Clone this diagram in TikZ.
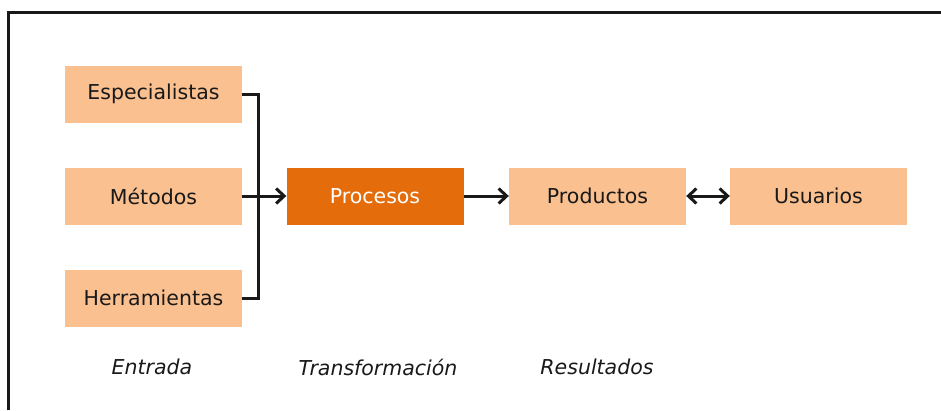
\documentclass[tikz,border=0pt]{standalone}
\usepackage{fontspec}
\setmainfont{DejaVu Sans}
\usetikzlibrary{arrows.meta}
\definecolor{lightor}{HTML}{FAC090}
\definecolor{darkor}{HTML}{E46C0A}
\begin{document}
\begin{tikzpicture}[x=1pt,y=-1pt,
  box/.style={fill=lightor,draw=none,minimum width=177pt,minimum height=57pt,inner sep=0pt,font=\fontsize{20.5}{24}\selectfont,text=black!90},
  mainbox/.style={box,fill=darkor,text=white},
  lbl/.style={font=\fontsize{20.5}{24}\selectfont\itshape,text=black!90},
  conn/.style={line width=3pt,black!90},
  arr/.style={conn,-{Straight Barb[length=8pt,width=15pt,line width=3pt]}},
  darr/.style={conn,{Straight Barb[length=8pt,width=15pt,line width=3pt]}-{Straight Barb[length=8pt,width=15pt,line width=3pt]}}]
\useasboundingbox (0,0) rectangle (941,410);
% frame (top and left edges)
\draw[line width=3pt,black!90] (8.5,410) -- (8.5,12) -- (941,12);
\node[box] (esp) at (153.5,94) {Especialistas};
\node[box] (met) at (153.5,196) {Métodos};
\node[box] (her) at (153.5,298) {Herramientas};
\node[mainbox] (pro) at (375,196) {Procesos};
\node[box] (prd) at (597.5,196) {Productos};
\node[box] (usu) at (818.5,196) {Usuarios};
\coordinate (jt) at (258.5,94);
\coordinate (jb) at (258.5,298);
\draw[conn] (esp.east) -- (jt) -- (jb) -- (her.east);
\draw[arr] (met.east) -- (pro.west);
\draw[arr] (pro.east) -- (prd.west);
\draw[darr] (prd.east) -- (usu.west);
\node[lbl] (ent) at (152,367) {Entrada};
\node[lbl] (tra) at (378,367) {Transformación};
\node[lbl] (res) at (597,367) {Resultados};
\end{tikzpicture}
\end{document}
